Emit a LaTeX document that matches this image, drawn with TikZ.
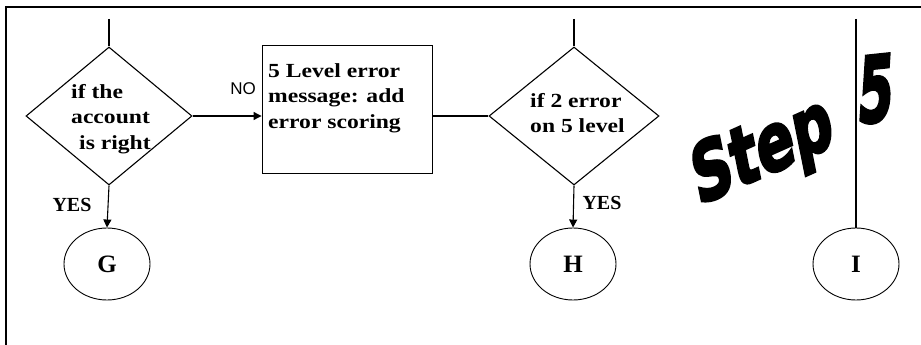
\documentclass[tikz,border=0pt]{standalone}
\usepackage{fontspec}
\setmainfont{Liberation Serif}
\newfontfamily\lblfont{Liberation Serif}[FakeStretch=1.18]
\newfontfamily\nofont{Liberation Sans}
\newfontfamily\stepfont{DejaVu Sans}[UprightFont={* Bold},FakeBold=4]
\usetikzlibrary{shapes.geometric,arrows.meta}
\tikzset{
  ln/.style={line width=1.1pt},
  dec/.style={diamond,draw,ln,inner sep=0pt},
  conn/.style={ellipse,draw,line width=0.9pt,minimum width=86pt,minimum height=72pt,inner sep=0pt,font=\fontsize{25}{28}\selectfont\bfseries},
  procbox/.style={rectangle,draw,line width=0.9pt,minimum width=170pt,minimum height=128pt,inner sep=0pt},
  txt/.style={font=\lblfont\fontsize{20}{25.5}\selectfont\bfseries,align=left,inner sep=0pt,anchor=west},
  arr/.style={ln,-{Triangle[length=8pt,width=8pt]}},
  yeslbl/.style={font=\fontsize{20}{24}\selectfont\bfseries,inner sep=0pt},
  nolbl/.style={font=\nofont\fontsize{17}{20}\selectfont,inner sep=0pt},
  wordart/.style={font=\stepfont\fontsize{60}{60}\selectfont,inner sep=0pt}
}
\begin{document}
\begin{tikzpicture}[x=1pt,y=-1pt]
\useasboundingbox (0,0) rectangle (921,345);
\clip (0,0) rectangle (921,345);
\fill[white] (0,0) rectangle (921,345);
\draw[line width=2pt] (6,360) -- (6,7) -- (940,7);

% nodes
\node[dec,minimum width=166pt,minimum height=138pt] (d1) at (109,116) {};
\node[procbox] (box) at (347,109) {};
\node[dec,minimum width=170pt,minimum height=138pt] (d2) at (574,116) {};
\node[conn] (G) at (107,264) {G};
\node[conn] (H) at (573,264) {H};
\node[conn] (I) at (856,264) {I};

% texts
\node[txt] (d1t) at (71,119) {if the\\account\\\hspace*{8pt}is right};
\node[txt,anchor=north west] (boxt) at (268,63) {5 Level error\\message: add\\error scoring};
\node[txt] (d2t) at (530,113) {if 2 error\\on 5 level};

% stubs
\coordinate (t1) at (109,19);
\coordinate (t2) at (574,19);
\coordinate (t3) at (856,19);
\draw[ln] (t1) -- (d1.north);
\draw[ln] (t2) -- (d2.north);
\draw[ln] (t3) -- (I.north);

% connectors
\draw[arr] (d1.east) -- (d1.east -| box.west);
\draw[ln] (d2.west -| box.east) -- (d2.west);
\draw[arr] (d1.south) -- (G.north);
\draw[arr] (d2.south) -- (H.north);

% labels
\node[nolbl] (no) at (243,89) {NO};
\node[yeslbl] (y1) at (72,205) {YES};
\node[yeslbl] (y2) at (602,203) {YES};

% word art
\node[wordart,rotate=24,xscale=0.97,yscale=1.3,xslant=0.3] (step) at (763,154) {Step};
\node[wordart,rotate=6,xscale=0.85,yscale=1.5,xslant=0.3] (five) at (876,89) {5};
\end{tikzpicture}
\end{document}
